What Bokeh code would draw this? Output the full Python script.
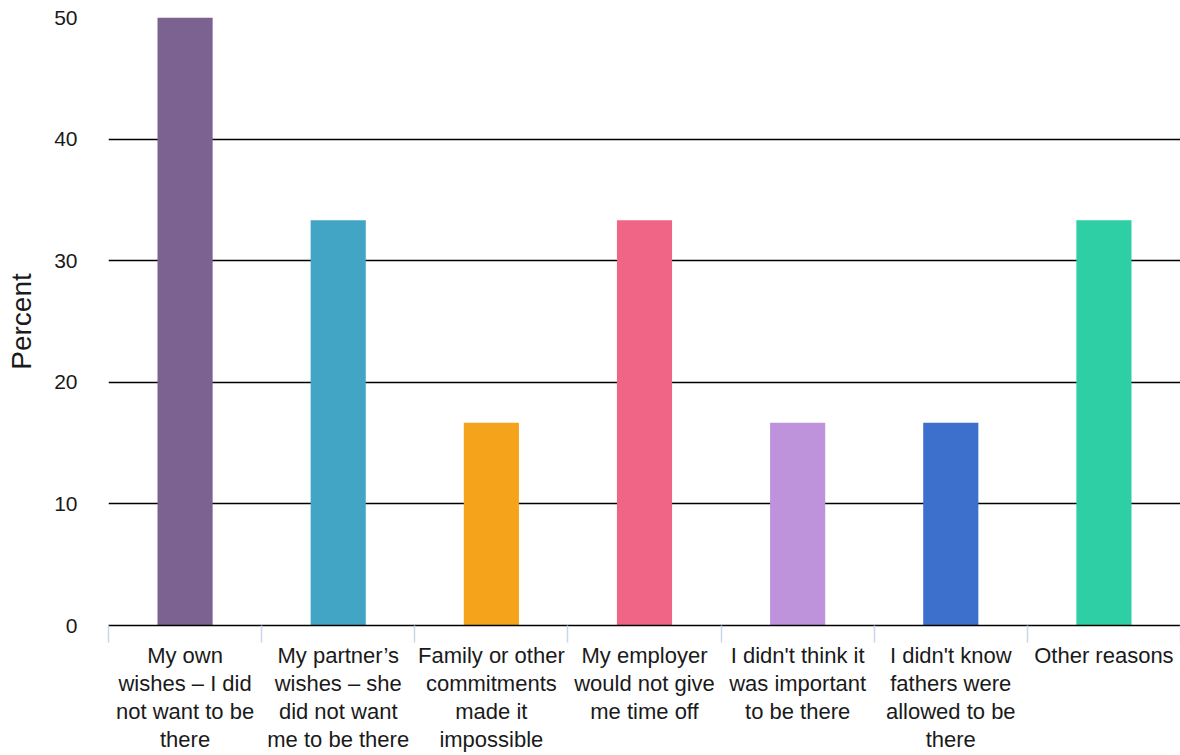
from bokeh.plotting import figure
from bokeh.models import ColumnDataSource, FixedTicker, Range1d
from bokeh.embed import file_html
from bokeh.resources import INLINE

categories = [
    "My own\nwishes \u2013 I did\nnot want to be\nthere",
    "My partner\u2019s\nwishes \u2013 she\ndid not want\nme to be there",
    "Family or other\ncommitments\nmade it\nimpossible",
    "My employer\nwould not give\nme time off",
    "I didn't think it\nwas important\nto be there",
    "I didn't know\nfathers were\nallowed to be\nthere",
    "Other reasons",
]
values = [50.0, 33.33, 16.67, 33.33, 16.67, 16.67, 33.33]
colors = ["#7B6290", "#42A5C5", "#F5A31A", "#F06586", "#BE93DB", "#3D6FCC", "#2ECFA5"]
y_ticks = [0, 10, 20, 30, 40, 50]

centers = [i + 0.5 for i in range(len(categories))]
src = ColumnDataSource(dict(x=centers, top=values, color=colors))

FONT = "Liberation Sans"

p = figure(width=1180, height=755, output_backend="svg", toolbar_location=None,
           x_range=Range1d(0, len(categories)), y_range=Range1d(0, 50))
p.min_border_left = 108
p.min_border_right = 0
p.min_border_top = 17
p.min_border_bottom = 100
p.outline_line_color = None
p.background_fill_color = "white"
p.border_fill_color = "white"

p.vbar(x="x", top="top", bottom=0, width=0.36, color="color", source=src, line_color=None)

# y axis
p.yaxis.ticker = FixedTicker(ticks=y_ticks)
p.yaxis.axis_line_color = None
p.yaxis.major_tick_line_color = None
p.yaxis.minor_tick_line_color = None
p.yaxis.major_tick_out = 0
p.yaxis.major_tick_in = 0
p.yaxis.major_label_standoff = 31
p.yaxis.major_label_text_font = FONT
p.yaxis.major_label_text_font_size = "21px"
p.yaxis.major_label_text_color = "#1a1a1a"
p.yaxis.axis_label = "Percent"
p.yaxis.axis_label_text_font = FONT
p.yaxis.axis_label_text_font_size = "28px"
p.yaxis.axis_label_text_font_style = "normal"
p.yaxis.axis_label_text_color = "#1a1a1a"
p.yaxis.axis_label_standoff = 14

p.ygrid.ticker = FixedTicker(ticks=y_ticks)
p.ygrid.grid_line_color = "black"
p.ygrid.grid_line_width = 1.6
p.xgrid.grid_line_color = None

# x axis: labels at centers, boundary ticks as minor ticks
p.xaxis.ticker = FixedTicker(ticks=centers, minor_ticks=list(range(len(categories) + 1)))
p.xaxis.major_label_overrides = {c: lab for c, lab in zip(centers, categories)}
p.xaxis.axis_line_color = "black"
p.xaxis.axis_line_width = 1.6
p.xaxis.major_tick_line_color = None
p.xaxis.major_tick_out = 0
p.xaxis.major_tick_in = 0
p.xaxis.minor_tick_line_color = "#C9D5EA"
p.xaxis.minor_tick_line_width = 1.5
p.xaxis.minor_tick_out = 17
p.xaxis.minor_tick_in = 0
p.xaxis.major_label_standoff = 0
p.xaxis.major_label_text_font = FONT
p.xaxis.major_label_text_font_size = "22px"
p.xaxis.major_label_text_color = "#1a1a1a"
p.xaxis.major_label_text_line_height = 1.13
p.xaxis.major_label_text_align = "center"

open("out.html", "w").write(file_html(p, INLINE))
